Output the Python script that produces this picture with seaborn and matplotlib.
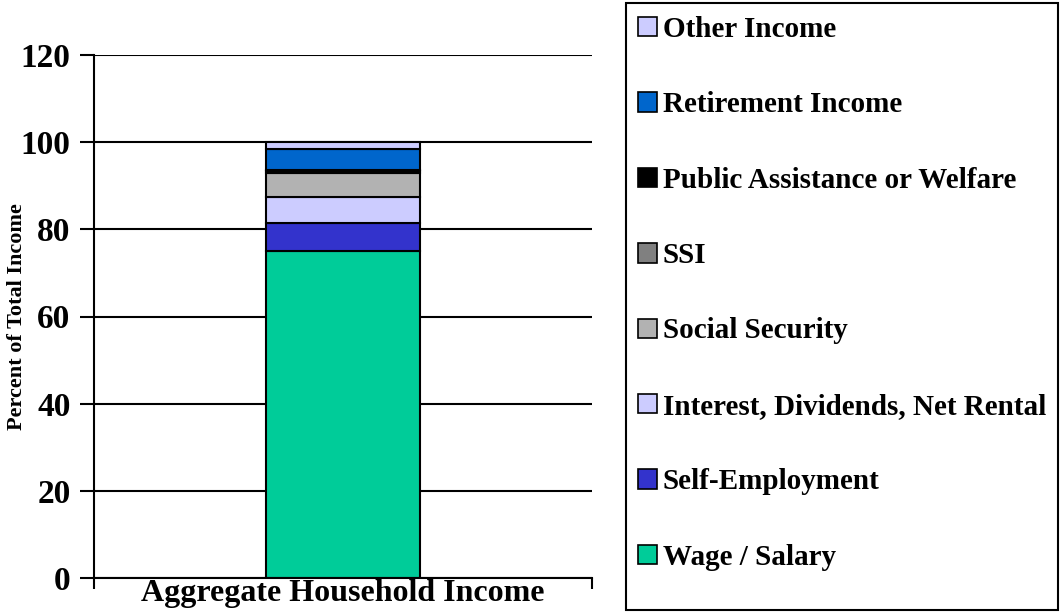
import matplotlib
matplotlib.use("Agg")
import matplotlib.pyplot as plt
import seaborn as sns
import pandas as pd
from matplotlib.patches import Patch, Rectangle

category = "Aggregate Household Income"
sources = ["Wage / Salary", "Self-Employment", "Interest, Dividends, Net Rental",
           "Social Security", "SSI", "Public Assistance or Welfare",
           "Retirement Income", "Other Income"]
shares = [75.0, 6.5, 6.0, 5.5, 0.3, 0.4, 4.8, 1.5]
colors = ["#00CC99", "#3333CC", "#CCCCFF", "#B2B2B2", "#808080", "#000000",
          "#0066CC", "#CCCCFF"]
yticks = [0, 20, 40, 60, 80, 100, 120]

sns.set_style("white")
plt.rcParams["font.family"] = ["Liberation Serif", "DejaVu Serif"]
plt.rcParams["font.weight"] = "bold"
for k in ["text.color", "axes.labelcolor", "xtick.color", "ytick.color"]:
    plt.rcParams[k] = "black"

W, H = 1061, 614
fig = plt.figure(figsize=(W / 100, H / 100), dpi=100)
ax = fig.add_axes([94 / W, 1 - 578 / H, 498 / W, 523 / H])

bottom = 0.0
for src, val, col in zip(sources, shares, colors):
    df = pd.DataFrame({"cat": [category], "val": [val]})
    sns.barplot(data=df, x="cat", y="val", color=col, width=0.31,
                bottom=bottom, edgecolor="black", linewidth=1.5,
                saturation=1, ax=ax)
    bottom += val

ax.set_xlim(-0.5, 0.5)
ax.set_ylim(0, 120)
ax.set_yticks(yticks)
ax.set_xticks([-0.5, 0.5], minor=True)
ax.set_axisbelow(True)
ax.yaxis.grid(True, color="black", linewidth=1.5)
for s in ["top", "right"]:
    ax.spines[s].set_visible(False)
for s in ["left", "bottom"]:
    ax.spines[s].set_color("black")
    ax.spines[s].set_linewidth(1.5)
ax.tick_params(axis="y", labelsize=24, length=10, width=1.5,
               direction="out", left=True, pad=7)
ax.tick_params(axis="x", which="major", labelsize=23, length=0, pad=1)
ax.tick_params(axis="x", which="minor", length=8, width=1.5,
               direction="out", bottom=True)
for lab in ax.get_yticklabels() + ax.get_xticklabels():
    lab.set_fontweight("bold")
ax.set_xlabel("")
ax.set_ylabel("Percent of Total Income", fontsize=16, fontweight="bold")
ax.yaxis.set_label_coords((27 - 94) / 498, 0.5)

# legend box
fig.patches.append(Rectangle((626 / W, 1 - 610 / H), 432 / W, 607 / H,
                             transform=fig.transFigure, fill=False,
                             edgecolor="black", linewidth=1.5))
handles = [Patch(facecolor=c, edgecolor="black", linewidth=1.2)
           for c in colors][::-1]
fig.legend(handles, sources[::-1], loc="upper left",
           bbox_to_anchor=(632 / W, 1 - 10 / H), borderaxespad=0,
           frameon=False, prop={"size": 21, "weight": "bold"},
           labelspacing=1.66, handlelength=0.65, handleheight=0.65,
           handletextpad=0.2, borderpad=0.2)

fig.savefig("out.png", dpi=100)
